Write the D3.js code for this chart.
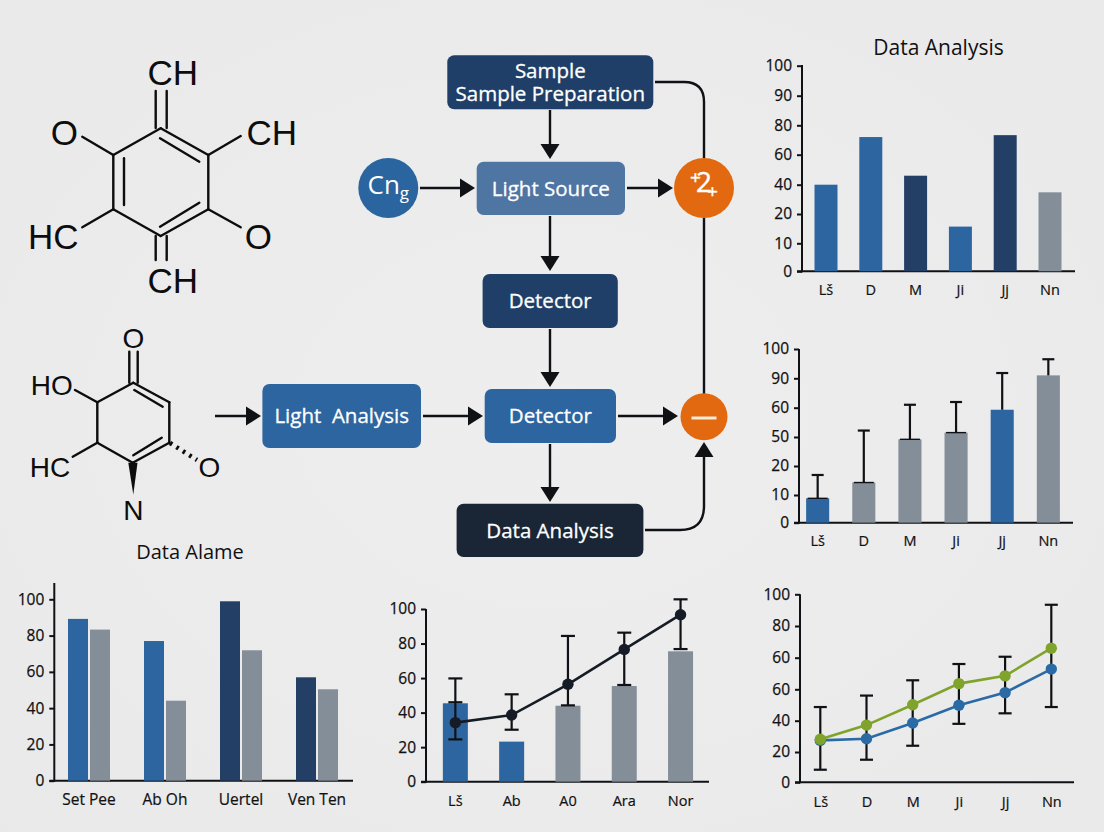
<!DOCTYPE html>
<html>
<head>
<meta charset="utf-8">
<script src="https://cdn.jsdelivr.net/npm/d3@7/dist/d3.min.js"></script>
<style>
html,body{margin:0;padding:0;background:#ebebec;}
svg{display:block;}
text{font-family:"Open Sans",sans-serif;fill:#111;}
.mol text{font-family:"Liberation Sans",sans-serif;fill:#0d0d0d;}
</style>
</head>
<body>
<div id="chart"></div>
<script>
// ---- Data: top-right bar chart
const topCats = ["Lš","D","M","Ji","Jj","Nn"];
const topTicks = [0,10,20,40,60,80,90,100];
const topValues = [40,72,46,15.7,73.3,34.8];
const topColors = ["blue","blue","navy","blue","navy","gray"];
// ---- Data: middle-right bar chart with error bars
const midCats = ["Lš","D","M","Ji","Jj","Nn"];
const midTicks = [0,10,20,50,60,90,100];
const midValues = [8.8,14.3,47.6,51.5,59.3,91];
const midUpper = [16.9,52.2,63,65.8,91.8,96.5];
const midColors = ["blue","gray","gray","gray","blue","gray"];
// ---- Data: bottom-left grouped bars
const groupCats = ["Set Pee","Ab Oh","Uertel","Ven Ten"];
const groupTicks = [0,20,40,60,80,100];
const groupA = [89.2,77,98.9,57];
const groupB = [83.3,44.1,71.9,50.4];
const groupAColors = ["blue","blue","navy","navy"];
// ---- Data: bottom-middle bars + line
const comboCats = ["Lš","Ab","A0","Ara","Nor"];
const comboTicks = [0,20,40,60,80,100];
const comboBars = [45.4,23.2,44,55.4,75.5];
const comboBarColors = ["blue","blue","gray","gray","gray"];
const comboLine = [34.2,38.6,56.4,76.6,96.7];
const comboHi = [59.8,50.6,84.4,86.3,105.6];
const comboLo = [24.5,30.1,44.2,56,76.8];
const comboExtraCap = [46];
// ---- Data: bottom-right two lines (tick labels as printed, with its repeated 60)
const lineCats = ["Lš","D","M","Ji","Jj","Nn"];
const lineTickLabels = ["0","20","40","60","60","80","100"];
const lineGreen = [28.1,37.2,50.2,63.6,68.5,86];
const lineBlue = [27.4,28.5,38.5,49.8,57.9,72.8];
const lineHi = [48.7,56,65.7,76,80.6,113.4];
const lineLo = [8.3,14.9,24,38,44.7,48.7];
// ---- Flow chart labels
const titleTop = "Data Analysis";
const titleMol = "Data Alame";

const palette = {blue:"#2c659f",navy:"#233f66",gray:"#848e98"};
const INK = "#0f1114";

const svg = d3.select("#chart").append("svg").attr("width",1104).attr("height",832).attr("viewBox","0 0 1104 832");
const defs = svg.append("defs");
const bg = defs.append("radialGradient").attr("id","bg").attr("cx","50%").attr("cy","50%").attr("r","75%");
bg.append("stop").attr("offset","0%").attr("stop-color","#eeeeef");
bg.append("stop").attr("offset","100%").attr("stop-color","#e9e9ea");
svg.append("rect").attr("width",1104).attr("height",832).attr("fill","url(#bg)");

function frame(opt){
  const g = svg.append("g");
  const yAxis = d3.axisLeft(opt.y).tickValues(opt.ticks).tickSize(5).tickPadding(opt.tickPad||5);
  if(opt.labels) yAxis.tickFormat((d,i)=>opt.labels[i]); else yAxis.tickFormat(d3.format("d"));
  const ay = g.append("g").attr("transform",`translate(${opt.axisX},0)`).call(yAxis);
  ay.select(".domain").remove();
  ay.selectAll("line").attr("stroke",INK).attr("stroke-width",2);
  ay.selectAll("text").attr("font-size",opt.yFont||15.5).attr("font-weight",500).style("font-family",'"Open Sans",sans-serif').style("fill","#111").style("stroke","#111").style("stroke-width",0.25);
  g.append("line").attr("x1",opt.axisX).attr("x2",opt.axisX).attr("y1",opt.top).attr("y2",opt.base+1).attr("stroke",INK).attr("stroke-width",2);
  g.append("line").attr("x1",opt.axisX-5).attr("x2",opt.right).attr("y1",opt.base).attr("y2",opt.base).attr("stroke",INK).attr("stroke-width",2);
  const ax = g.append("g").attr("transform",`translate(0,${opt.base})`).call(d3.axisBottom(opt.x).tickSize(0).tickPadding(opt.xPad));
  ax.select(".domain").remove();
  ax.selectAll("text").attr("font-size",opt.xFont||14.5).attr("font-weight",500).style("font-family",'"Open Sans",sans-serif').style("fill","#111").style("stroke","#111").style("stroke-width",0.2);
  return g;
}
function bars(g,cats,vals,x,y,colors,base,offset,w){
  g.append("g").selectAll("rect").data(vals).join("rect")
    .attr("x",(d,i)=>x(cats[i])+(offset||0)).attr("width",w||x.bandwidth())
    .attr("y",d=>y(d)).attr("height",d=>base-y(d))
    .attr("fill",(d,i)=>palette[colors[i]]);
}
function errs(g,cx,y,hi,lo,half,sw){
  const e = g.append("g").attr("stroke",INK).attr("stroke-width",sw||2.2);
  hi.forEach((h,i)=>{
    const c = cx(i);
    e.append("line").attr("x1",c).attr("x2",c).attr("y1",y(h)).attr("y2",y(lo[i]));
    e.append("line").attr("x1",c-half).attr("x2",c+half).attr("y1",y(h)).attr("y2",y(h));
    e.append("line").attr("x1",c-half).attr("x2",c+half).attr("y1",y(lo[i])).attr("y2",y(lo[i]));
  });
}
function seriesLine(g,vals,cx,y,color,r,sw){
  g.append("path").datum(vals).attr("fill","none").attr("stroke",color).attr("stroke-width",sw||2.6)
    .attr("d",d3.line().x((d,i)=>cx(i)).y(d=>y(d)));
  g.append("g").selectAll("circle").data(vals).join("circle")
    .attr("cx",(d,i)=>cx(i)).attr("cy",d=>y(d)).attr("r",r).attr("fill",color);
}

// ---- Top-right chart
{
  const x = d3.scaleBand().domain(topCats).range([803.6,1072.4]).paddingInner(0.487).paddingOuter(0.2435);
  const y = d3.scaleLinear().domain(topTicks).range([271.3,243.3,214,184.7,154.7,125.3,95.7,65.7]);
  const g = frame({x,y,ticks:topTicks,axisX:802,top:65,base:271.3,right:1075,xPad:13});
  bars(g,topCats,topValues,x,y,topColors,271.3);
  svg.append("text").attr("x",938.5).attr("y",48).attr("dy",".35em").attr("text-anchor","middle").attr("font-size",21).text(titleTop);
}
// ---- Middle-right chart
{
  const x = d3.scaleBand().domain(midCats).range([794.6,1071.4]).paddingInner(0.5).paddingOuter(0.25);
  const y = d3.scaleLinear().domain(midTicks).range([522.7,495,466,437,407.7,378.3,349]);
  const g = frame({x,y,ticks:midTicks,axisX:799,top:349,base:522.7,right:1073,xPad:13});
  bars(g,midCats,midValues,x,y,midColors,522.7);
  const c = i=>x(midCats[i])+x.bandwidth()/2;
  const e = g.append("g").attr("stroke",INK).attr("stroke-width",2.2);
  midUpper.forEach((h,i)=>{
    e.append("line").attr("x1",c(i)).attr("x2",c(i)).attr("y1",y(h)).attr("y2",y(midValues[i]));
    e.append("line").attr("x1",c(i)-6).attr("x2",c(i)+6).attr("y1",y(h)).attr("y2",y(h));
  });
  g.append("g").attr("stroke",INK).attr("stroke-width",1.4).selectAll("line").data(midValues.slice(0,4)).join("line")
    .attr("x1",(d,i)=>c(i)-10).attr("x2",(d,i)=>c(i)+10).attr("y1",d=>y(d)).attr("y2",d=>y(d));
}
// ---- Bottom-left grouped chart
{
  const x = d3.scaleBand().domain(groupCats).range([51,355]);
  const y = d3.scaleLinear().domain([0,100]).range([780.7,599.3]);
  const g = frame({x,y,ticks:groupTicks,axisX:54.3,top:583,base:780.7,right:353,xPad:13,xFont:15.5,yFont:15.5,tickPad:5});
  const c = n=>x(n)+x.bandwidth()/2;
  const bw = 20, gap = 2;
  g.append("g").selectAll("rect").data(groupA).join("rect")
    .attr("x",(d,i)=>c(groupCats[i])-bw-gap/2).attr("width",bw).attr("y",d=>y(d)).attr("height",d=>780.7-y(d))
    .attr("fill",(d,i)=>palette[groupAColors[i]]);
  g.append("g").selectAll("rect").data(groupB).join("rect")
    .attr("x",(d,i)=>c(groupCats[i])+gap/2).attr("width",bw).attr("y",d=>y(d)).attr("height",d=>780.7-y(d))
    .attr("fill",palette.gray);
}
// ---- Bottom-middle combo chart
{
  const x = d3.scaleBand().domain(comboCats).range([427.2,708.7]).paddingInner(0.556).paddingOuter(0.278);
  const y = d3.scaleLinear().domain([0,100]).range([781.7,609]);
  const g = frame({x,y,ticks:comboTicks,axisX:426,top:609,base:781.7,right:709,xPad:14});
  bars(g,comboCats,comboBars,x,y,comboBarColors,781.7);
  const c = i=>x(comboCats[i])+x.bandwidth()/2;
  errs(g,c,y,comboHi,comboLo,7);
  comboExtraCap.forEach((v,i)=>g.append("line").attr("x1",c(i)-7).attr("x2",c(i)+7).attr("y1",y(v)).attr("y2",y(v)).attr("stroke",INK).attr("stroke-width",2.2));
  seriesLine(g,comboLine,c,y,"#161c26",5.7,2.6);
}
// ---- Bottom-right line chart
{
  const x = d3.scalePoint().domain(lineCats).range([820.3,1051.3]);
  const y = d3.scaleLinear().domain([0,20,40,60,80,100,120]).range([782.3,752,720.7,689.3,657.7,626,594.3]);
  const g = frame({x,y,ticks:[0,20,40,60,80,100,120],labels:lineTickLabels,axisX:800,top:594.3,base:782.3,right:1074,xPad:14});
  const c = i=>x(lineCats[i]);
  errs(g,c,y,lineHi,lineLo,6.5);
  seriesLine(g,lineBlue,c,y,"#2a6aa5",5.7,2.6);
  seriesLine(g,lineGreen,c,y,"#7fa32b",5.7,2.6);
}

// ---- Flow chart
const flow = svg.append("g");
function node(x0,y0,x1,y1,fill,lines,size){
  flow.append("rect").attr("x",x0).attr("y",y0).attr("width",x1-x0).attr("height",y1-y0).attr("rx",7).attr("fill",fill);
  const cy=(y0+y1)/2, n=lines.length, lh=23;
  lines.forEach((t,i)=>flow.append("text").attr("x",(x0+x1)/2).attr("y",cy+(i-(n-1)/2)*lh).attr("dy",".35em")
    .attr("text-anchor","middle").attr("font-size",size).style("fill","#fff").style("stroke","#fff").style("stroke-width",0.3).text(t));
}
function link(d){flow.append("path").attr("d",d).attr("fill","none").attr("stroke",INK).attr("stroke-width",2.4);}
function head(x,y,dir){ // tip at x,y
  const L=15,W=9.5;
  const p = dir==="r"?[[x,y],[x-L,y-W],[x-L,y+W]]:dir==="d"?[[x,y],[x-W,y-L],[x+W,y-L]]:[[x,y],[x-W,y+L],[x+W,y+L]];
  flow.append("path").attr("d",d3.line()(p)+"Z").attr("fill",INK);
}
const navy="#1f3f68", mid="#2c659f", lite="#4f75a2", dark="#1a2635";
node(447.3,55.3,653.3,109.3,navy,["Sample","Sample Preparation"],20.5);
node(476.7,161.7,625,215,lite,["Light Source"],20.5);
node(482.6,274,617.8,328,navy,["Detector"],20.5);
node(262.4,384,421,448,mid,["Light  Analysis"],20.5);
node(484.7,389,616,443,mid,["Detector"],20.5);
node(456.6,503.7,643.4,557,dark,["Data Analysis"],20.5);
flow.selectAll("text").filter(function(){return d3.select(this).text()==="Light  Analysis";}).style("white-space","pre");

// connectors
link("M550 110V150"); head(550,159,"d");
link("M550 216V262"); head(550,271,"d");
link("M550 329V378"); head(550,387,"d");
link("M550 444V494"); head(550,502,"d");
link("M420 188H465"); head(475,188,"r");
link("M627 188H662"); head(673,188,"r");
link("M215 416H250"); head(261,416,"r");
link("M423 416H472"); head(483,416,"r");
link("M618 416H667"); head(678,416,"r");
link("M655 82H684Q704 82 704 102V160");
link("M704 216V395");
link("M645 530H680Q704 530 704 506V455"); head(704,442,"u");

// circles
flow.append("circle").attr("cx",388.3).attr("cy",188).attr("r",30).attr("fill","#2a659f");
const cng = flow.append("text").attr("x",388.3).attr("y",188).attr("dy",".35em").attr("text-anchor","middle").style("fill","#fff");
cng.append("tspan").attr("font-size",26).text("Cn");
cng.append("tspan").attr("font-size",17).attr("dy",5).text("g");
flow.append("circle").attr("cx",704).attr("cy",188).attr("r",30).attr("fill","#e2690f");
const two = flow.append("text").attr("x",704).attr("y",188).attr("dy",".35em").attr("text-anchor","middle").style("fill","#fff").style("stroke","#fff").style("stroke-width",0.4);
two.append("tspan").attr("font-size",19).attr("dy",-4).text("+");
two.append("tspan").attr("font-size",28).attr("dx",-5).attr("dy",8).text("2");
two.append("tspan").attr("font-size",19).attr("dx",-5).attr("dy",6).text("+");
flow.append("circle").attr("cx",704).attr("cy",416.7).attr("r",23.5).attr("fill","#e2690f");
flow.append("line").attr("x1",691.5).attr("x2",716.5).attr("y1",418).attr("y2",418).attr("stroke","#f6ead9").attr("stroke-width",3);

// ---- Molecule drawings
const mol = svg.append("g").attr("class","mol");
function bond(x1,y1,x2,y2,w){mol.append("line").attr("x1",x1).attr("y1",y1).attr("x2",x2).attr("y2",y2).attr("stroke","#0d0d0d").attr("stroke-width",w||2.4).attr("stroke-linecap","round");}
function atom(t,x,y,s){mol.append("text").attr("x",x).attr("y",y).attr("dy",".36em").attr("text-anchor","middle").attr("font-size",s).text(t);}
// upper molecule
[[160.7,128.3,208.3,155],[208.3,155,208.3,209.3],[208.3,209.3,160.7,236],[160.7,236,113.3,209.3],[113.3,209.3,113.3,155],[113.3,155,160.7,128.3],
 [160,138.3,199.3,161.7],[124,158.3,124,205],[160,226.7,199.3,202.7],
 [155.7,91,155.7,128],[166.7,91,166.7,128],[155.7,236,155.7,260],[166.7,236,166.7,260],
 [113.3,155,82.3,136.7],[208.3,155,240.7,136],[113.3,209.3,82.3,227.3],[208.3,209.3,240.7,227.3]
].forEach(b=>bond(...b));
atom("CH",172.7,72.3,35);atom("O",64.3,132.3,35);atom("CH",271.7,132.3,35);
atom("HC",53.3,236,35);atom("O",258.3,236,35);atom("CH",172.7,280,35);
// lower molecule
[[133.3,382.7,169.3,402.3],[169.3,402.3,169.3,442.7],[169.3,442.7,132.7,462.7],[132.7,462.7,97.3,442.7],[97.3,442.7,97.3,402.3],[97.3,402.3,133.3,382.7],
 [134.3,390,162.7,406.7],[133.3,455.3,161.7,437.7],
 [129.3,351.7,129.3,382.7],[137.7,351.7,137.7,382.7],
 [97.3,402.3,75,390],[97.3,442.7,72.7,456.7]
].forEach(b=>bond(...b));
mol.append("path").attr("d","M128.3 462.7L137.5 462.7L133.3 494.5Z").attr("fill","#0d0d0d");
mol.append("line").attr("x1",170).attr("y1",443).attr("x2",197).attr("y2",460).attr("stroke","#0d0d0d").attr("stroke-width",4.5).attr("stroke-dasharray","2.6 5");
atom("O",133.3,337.7,28);atom("HO",51.7,385,28);atom("HC",50,467.3,28);atom("O",209.3,466.7,28);atom("N",133.3,510,28);
svg.append("text").attr("x",190).attr("y",552).attr("dy",".35em").attr("text-anchor","middle").attr("font-size",20).text(titleMol);
</script>
</body>
</html>
